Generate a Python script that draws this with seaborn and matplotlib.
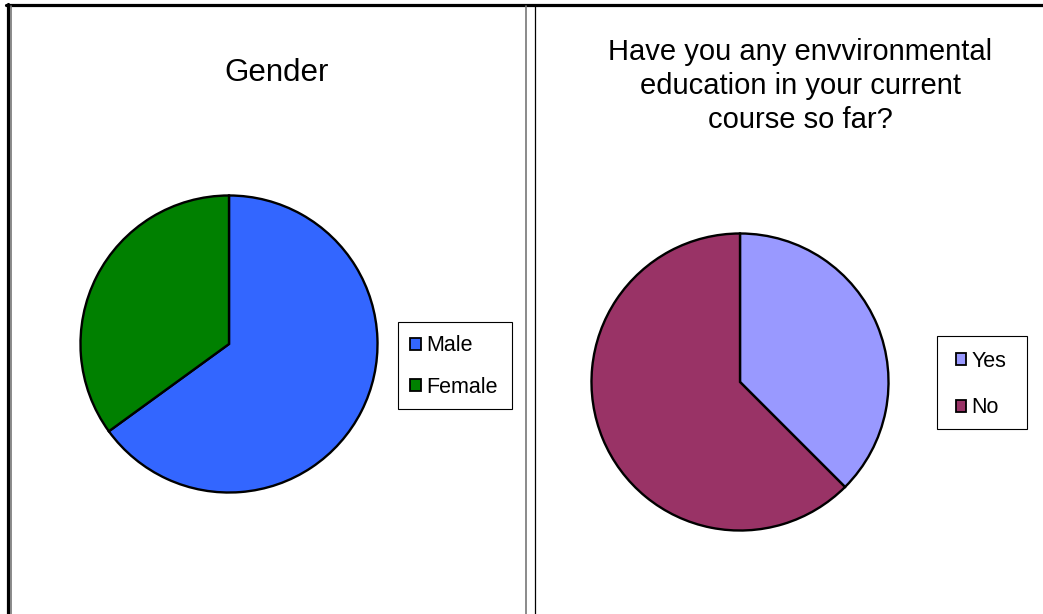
import matplotlib
matplotlib.use("Agg")
import matplotlib.pyplot as plt
from matplotlib.lines import Line2D
from matplotlib.patches import Rectangle
import seaborn as sns

# data
gender_labels = ["Male", "Female"]
gender_values = [65, 35]
edu_labels = ["Yes", "No"]
edu_values = [37.5, 62.5]

gender_colors = sns.color_palette(["#3366FF", "#008000"])
edu_colors = sns.color_palette(["#9999FF", "#993366"])

sns.set_style("white")
plt.rcParams["font.family"] = ["Liberation Sans", "DejaVu Sans"]
plt.rcParams["text.color"] = "black"

W, H = 1043, 614
fig = plt.figure(figsize=(W / 100, H / 100), dpi=100)


def fx(x):
    return x / W


def fy(y):
    return 1 - y / H


def px_axes(cx, cy, r):
    return fig.add_axes([(cx - r) / W, 1 - (cy + r) / H, 2 * r / W, 2 * r / H])


def draw_pie(ax, values, colors):
    wedges, _ = ax.pie(values, colors=colors, startangle=90, counterclock=False,
                       wedgeprops={"edgecolor": "black", "linewidth": 1.7})
    ax.set_xlim(-1.01, 1.01)
    ax.set_ylim(-1.01, 1.01)
    ax.set_aspect("equal")
    ax.axis("off")
    return wedges


ax1 = px_axes(229, 344, 150)
w1 = draw_pie(ax1, gender_values, gender_colors)
ax2 = px_axes(740, 382, 150)
w2 = draw_pie(ax2, edu_values, edu_colors)

fig.text(fx(277), fy(73), "Gender", ha="center", va="center", fontsize=22.5)
fig.text(fx(800), fy(86),
         "Have you any envvironmental\neducation in your current\ncourse so far?",
         ha="center", va="center", fontsize=21, linespacing=1.28)


def legend_box(handles, labels, x0, y0, x1, y1, cy, spacing):
    leg = fig.legend(handles, labels, frameon=False, fontsize=15.5,
                     handlelength=0.48, handleheight=0.48, handletextpad=0.25,
                     labelspacing=spacing, borderpad=0, borderaxespad=0,
                     loc="center", bbox_to_anchor=(fx((x0 + x1) / 2 - 1), fy(cy)))
    for h in leg.legend_handles:
        h.set_edgecolor("black")
        h.set_linewidth(1.3)
    fig.add_artist(Rectangle((fx(x0), fy(y1)), fx(x1) - fx(x0), fy(y0) - fy(y1),
                             transform=fig.transFigure, fill=False,
                             edgecolor="black", lw=0.8))
    return leg


legend_box(w1, gender_labels, 398, 322, 512, 409, 366.5, 0.93)
legend_box(w2, edu_labels, 937, 336, 1027, 429, 384.5, 1.2)


# page frame lines
def vline(x, y0, color, lw):
    fig.add_artist(Line2D([fx(x), fx(x)], [fy(y0), 0], color=color, lw=lw))


fig.add_artist(Line2D([fx(6), 1], [fy(5), fy(5)], color="black", lw=2.3))
vline(7.5, 4, "black", 2.3)
vline(10.8, 6, "#777777", 1.2)
vline(526, 6, "#777777", 1.2)
vline(535.2, 6, "black", 0.9)

fig.savefig("out.png", dpi=100, facecolor="white")
